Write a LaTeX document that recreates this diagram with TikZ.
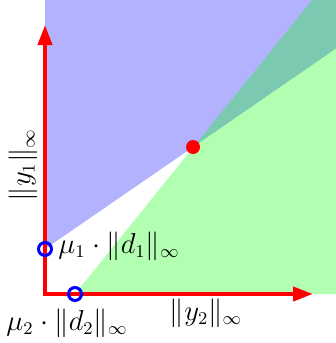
\documentclass[tikz,border=0pt]{standalone}
\usetikzlibrary{arrows.meta}
\begin{document}
\begin{tikzpicture}[x=0.5pt,y=-0.5pt,
  axis/.style={red, line width=2pt, {Triangle[length=10pt,width=7pt]}-{Triangle[length=10pt,width=7pt]}},
  ring/.style={circle, draw=blue, line width=1.5pt, minimum size=6.5pt, inner sep=0pt},
  reddot/.style={circle, fill=red, minimum size=7pt, inner sep=0pt},
  lab/.style={font=\fontsize{13.5}{16}\selectfont, inner sep=0pt},
  region/.style={opacity=0.3}]
\useasboundingbox (0,0) rectangle (336,343);
% regions
\fill[blue, region] (45,0) -- (45,249) -- (336,48.5) -- (336,0) -- cycle;
\fill[green, region] (75,294) -- (312,0) -- (336,0) -- (336,294) -- cycle;
% axes
\coordinate (O) at (45,294);
\coordinate (ytip) at (45,25);
\coordinate (xtip) at (313,294);
\draw[axis] (ytip) -- (O) -- (xtip);
% markers
\node[ring] (m1) at (45,249) {};
\node[ring] (m2) at (75,294) {};
\node[reddot] (p) at (193,147) {};
% labels
\node[lab, rotate=90] (ly1) at (23,165) {$\|y_1\|_\infty$};
\node[lab] (ly2) at (206,313) {$\|y_2\|_\infty$};
\node[lab] (lm1) at (119,246) {$\mu_1\cdot\|d_1\|_\infty$};
\node[lab] (lm2) at (67,323) {$\mu_2\cdot\|d_2\|_\infty$};
\end{tikzpicture}
\end{document}
